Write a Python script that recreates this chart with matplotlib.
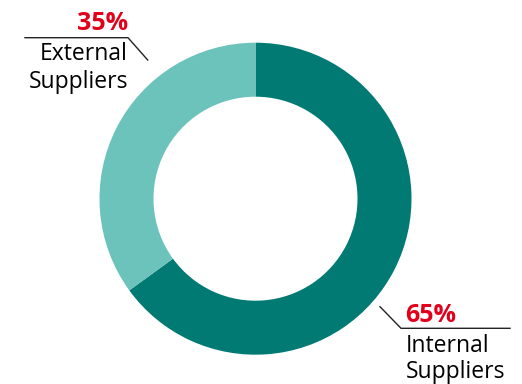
import matplotlib
matplotlib.use("Agg")
import matplotlib.pyplot as plt

categories = ["Internal\nSuppliers", "External\nSuppliers"]
shares = [65, 35]
colors = ["#007A73", "#6CC3BC"]
pct_labels = ["65%", "35%"]

W, H = 522, 384
fig = plt.figure(figsize=(W / 100, H / 100), dpi=100)
ax = fig.add_axes([0, 0, 1, 1])

def py(y):
    # convert top-down pixel row to axes y
    return H - y

cx, cy, r_out = 255.5, py(198.7), 156
ring = 1 - 102 / 156

ax.pie(shares, colors=colors, startangle=90, counterclock=False,
       radius=r_out, center=(cx, cy),
       wedgeprops=dict(width=r_out * ring, linewidth=0))

ax.set_xlim(0, W)
ax.set_ylim(0, H)
ax.set_aspect("equal")
ax.axis("off")

font = "Open Sans"
red = "#E3001B"
lc = "#222222"
label_size = 16.5
pct_size = 18

# External suppliers callout (top left)
ax.plot([25, 128, 147.7], [py(37.7), py(37.7), py(60)], color=lc, lw=1.0)
ax.text(128, py(30), pct_labels[1], color=red, fontsize=pct_size, fontweight="bold",
        family=font, ha="right", va="baseline")
ext = categories[1].split("\n")
ax.text(128, py(60), ext[0], color="black", fontsize=label_size, family=font,
        ha="right", va="baseline")
ax.text(128, py(88.3), ext[1], color="black", fontsize=label_size, family=font,
        ha="right", va="baseline")

# Internal suppliers callout (bottom right)
ax.plot([380, 401, 510], [py(306.7), py(328.3), py(328.3)], color=lc, lw=1.0)
ax.text(405, py(322.3), pct_labels[0], color=red, fontsize=pct_size, fontweight="bold",
        family=font, ha="left", va="baseline")
intl = categories[0].split("\n")
ax.text(406, py(352.3), intl[0], color="black", fontsize=label_size, family=font,
        ha="left", va="baseline")
ax.text(406, py(378.3), intl[1], color="black", fontsize=label_size, family=font,
        ha="left", va="baseline")

fig.savefig("out.png", dpi=100)
